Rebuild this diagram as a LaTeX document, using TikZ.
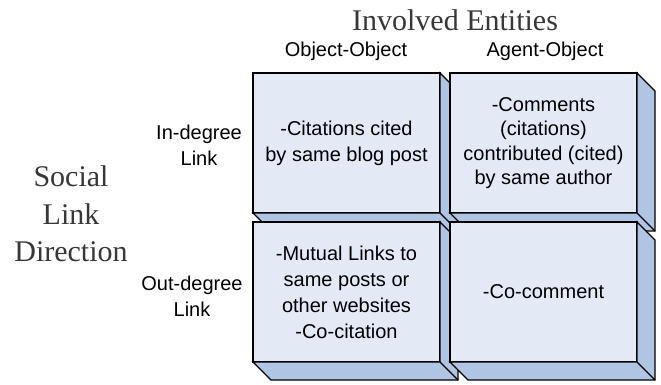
\documentclass[tikz,border=0pt]{standalone}
\usepackage{fontspec}
\setmainfont{Liberation Serif}
\setsansfont{Liberation Sans}
\definecolor{facefill}{RGB}{227,234,246}
\definecolor{sidefill}{RGB}{176,197,228}
\definecolor{titlegray}{RGB}{55,55,55}

% cell geometry (width, height, bevel depth)
\def\cw{187}
\def\ch{140}
\def\cd{18}

\tikzset{
  face/.style={draw=black, line width=1.1pt, fill=facefill,
    minimum width=\cw pt, minimum height=\ch pt, inner sep=0pt, outer sep=0pt,
    anchor=north west, align=center, text=black,
    font=\sffamily\fontsize{20}{26}\selectfont},
  side/.style={draw=black, line width=1.1pt, fill=sidefill, line join=miter},
  edge/.style={draw=black, line width=1.1pt},
  title/.style={font=\rmfamily\fontsize{30}{37.5}\selectfont, text=titlegray,
    align=center, inner sep=0pt},
  label/.style={font=\sffamily\fontsize{20}{26}\selectfont, text=black,
    align=center, inner sep=0pt}
}

% bevelled right and bottom faces of a cell node
\newcommand\extrude[1]{%
  \draw[side] (#1.north east) -- ++(\cd,\cd)
    |- ([shift={(\cd,\cd)}]#1.south west) -- (#1.south west)
    -- (#1.south east) -- cycle;
  \draw[edge] (#1.south east) -- ++(\cd,\cd);
}

\begin{document}
\begin{tikzpicture}[x=1pt,y=-1pt]
\useasboundingbox (0,0) rectangle (661,384);

% headings
\node[title, anchor=base] (involved) at (455,30) {Involved Entities};
\node[label, anchor=base] (objobj) at (346,56) {Object-Object};
\node[label, anchor=base] (agobj) at (545,56) {Agent-Object};

\node[title] (direction) at (71,214) {Social\\Link\\Direction};
\node[label] (indeg) at (199,145) {In-degree\\Link};
\node[label] (outdeg) at (192,296) {Out-degree\\Link};

% the four cells, drawn so later cells overlap earlier bevels
\node[face] (c11) at (253,73) {-Citations cited\\by same blog post};
\extrude{c11}
\node[face, font=\sffamily\fontsize{20}{24.5}\selectfont] (c12) at (450,73)
  {-Comments\\(citations)\\contributed (cited)\\by same author};
\extrude{c12}
\node[face] (c21) at (253,222)
  {-Mutual Links to\\same posts or\\other websites\\-Co-citation};
\extrude{c21}
\node[face] (c22) at (450,222) {-Co-comment};
\extrude{c22}
\end{tikzpicture}
\end{document}
